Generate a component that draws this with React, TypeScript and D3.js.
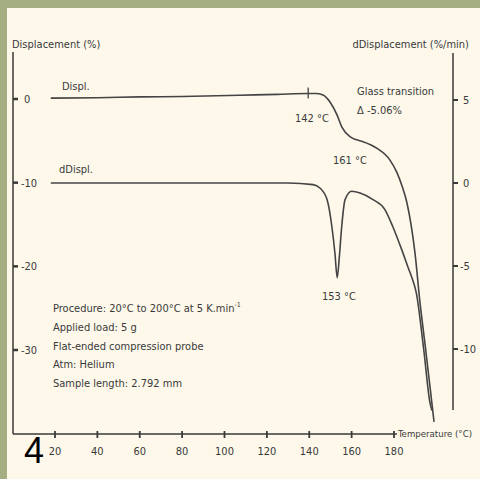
import { useEffect, useRef } from 'react';
import * as d3 from 'd3';

const tempTicks = [20, 40, 60, 80, 100, 120, 140, 160, 180];
const displTicks = [0, -10, -20, -30];
const rateTicks = [5, 0, -5, -10];

// Displacement (%) vs temperature (°C)
const displTemp = [18, 40, 60, 80, 107, 125, 139, 143, 146.5, 149.8, 153.1, 155.4, 159.2, 162, 165.4, 172, 178.1, 181.4, 183.8, 186.1, 189.9, 192.3, 194.6, 197, 198.9];
const displValue = [0.1, 0.15, 0.25, 0.3, 0.45, 0.55, 0.65, 0.65, 0.48, -0.36, -1.9, -3.35, -4.5, -4.85, -5.1, -5.9, -7.3, -8.8, -10.4, -12.4, -18.4, -24.4, -29.2, -34.4, -38.6];

// dDisplacement (%/min) vs temperature (°C)
const rateTemp = [18, 60, 100, 130, 141.8, 145, 148.4, 150.7, 152.1, 153.2, 154.2, 155.3, 156.9, 160, 164, 170.1, 175.7, 179.5, 183.6, 186.7, 188.7, 190.5, 194, 197, 197.9];
const rateValue = [0, 0, 0, 0, -0.1, -0.3, -1.0, -2.65, -4.2, -5.7, -4.45, -2.65, -1.0, -0.5, -0.6, -1.0, -1.6, -2.65, -4.0, -5.1, -5.8, -6.6, -10.0, -13.25, -13.7];

const procedureLines = [
  'Applied load: 5 g',
  'Flat-ended compression probe',
  'Atm: Helium',
  'Sample length: 2.792 mm',
];

const FONT = '"Liberation Sans Narrow", "DejaVu Sans Condensed", "Arial Narrow", sans-serif';
const INK = '#3a3a3a';

const App = () => {
  const svgRef = useRef<SVGSVGElement>(null);

  useEffect(() => {
    const svg = d3.select(svgRef.current);
    svg.selectAll('*').remove();

    const W = 480;
    const H = 479;

    // frame
    svg.append('rect').attr('width', W).attr('height', H).attr('fill', '#a5ad82');
    svg.append('rect').attr('x', 7).attr('y', 8).attr('width', W - 7).attr('height', H - 8).attr('fill', '#fdf8ea');

    const x = d3.scaleLinear().domain([20, 180]).range([55, 394]);
    const yL = d3.scaleLinear().domain([0, -30]).range([99, 350]);
    const yR = d3.scaleLinear().domain([5, -10]).range([100, 349]);

    const axisX = 13;
    const axisY = 434;
    const rightX = 453;

    const g = svg.append('g').style('font-family', FONT).style('fill', INK);

    // left axis
    g.append('line').attr('x1', axisX).attr('x2', axisX).attr('y1', 52).attr('y2', axisY)
      .attr('stroke', INK).attr('stroke-width', 1.5);
    displTicks.forEach(v => {
      g.append('line').attr('x1', axisX).attr('x2', axisX + 5).attr('y1', yL(v)).attr('y2', yL(v))
        .attr('stroke', INK).attr('stroke-width', 2.5);
      g.append('text').attr('x', v === 0 ? 24 : 21).attr('y', yL(v) + 4)
        .style('font-size', '11px').text(String(v));
    });

    // right axis
    g.append('line').attr('x1', rightX).attr('x2', rightX).attr('y1', 53).attr('y2', 410)
      .attr('stroke', INK).attr('stroke-width', 1.5);
    rateTicks.forEach(v => {
      g.append('line').attr('x1', rightX).attr('x2', rightX + 5).attr('y1', yR(v)).attr('y2', yR(v))
        .attr('stroke', INK).attr('stroke-width', 2);
      g.append('text').attr('x', v < 0 ? 460 : 463).attr('y', yR(v) + 4)
        .style('font-size', '11px').text(String(v));
    });

    // x axis
    g.append('line').attr('x1', axisX).attr('x2', 397).attr('y1', axisY).attr('y2', axisY)
      .attr('stroke', INK).attr('stroke-width', 1.5);
    tempTicks.forEach(t => {
      g.append('line').attr('x1', x(t)).attr('x2', x(t)).attr('y1', axisY - 3).attr('y2', axisY + 4)
        .attr('stroke', INK).attr('stroke-width', 1.8);
      g.append('text').attr('x', x(t)).attr('y', 455).attr('text-anchor', 'middle')
        .style('font-size', '11px').text(String(t));
    });

    // titles
    g.append('text').attr('x', 12).attr('y', 48).style('font-size', '11px').text('Displacement (%)');
    g.append('text').attr('x', 469).attr('y', 48).attr('text-anchor', 'end').style('font-size', '11px')
      .text('dDisplacement (%/min)');
    g.append('text').attr('x', 398).attr('y', 437).style('font-size', '9.5px')
      .attr('textLength', 74).attr('lengthAdjust', 'spacingAndGlyphs').text('Temperature (°C)');

    // curves
    const displData = displTemp.map((t, i) => [t, displValue[i]] as [number, number]);
    const rateData = rateTemp.map((t, i) => [t, rateValue[i]] as [number, number]);

    const displLine = d3.line<[number, number]>()
      .x(d => x(d[0])).y(d => yL(d[1])).curve(d3.curveMonotoneX);
    const rateLine = d3.line<[number, number]>()
      .x(d => x(d[0])).y(d => yR(d[1])).curve(d3.curveMonotoneX);

    svg.append('path').attr('d', displLine(displData)).attr('fill', 'none')
      .attr('stroke', '#444').attr('stroke-width', 1.6);
    svg.append('path').attr('d', rateLine(rateData)).attr('fill', 'none')
      .attr('stroke', '#444').attr('stroke-width', 1.6);

    // onset marker
    const onsetT = 139.5;
    const onsetY = yL(0.65);
    svg.append('line').attr('x1', x(onsetT)).attr('x2', x(onsetT)).attr('y1', onsetY - 6).attr('y2', onsetY + 5)
      .attr('stroke', '#444').attr('stroke-width', 1.3);

    // annotations
    const note = (tx: number, ty: number, s: string) =>
      g.append('text').attr('x', tx).attr('y', ty).style('font-size', '11px').text(s);
    note(62, 90, 'Displ.');
    note(59, 173, 'dDispl.');
    note(295, 122, '142 °C');
    note(333, 164, '161 °C');
    note(322, 300, '153 °C');
    note(357, 95, 'Glass transition');
    note(357, 114, 'Δ -5.06%');

    // procedure block
    const proc = g.append('text').attr('x', 53).attr('y', 312).style('font-size', '11px');
    proc.append('tspan').text('Procedure: 20°C to 200°C at 5 K.min');
    proc.append('tspan').attr('dy', -5).style('font-size', '7px').text('-1');
    procedureLines.forEach((s, i) => note(53, 331 + i * 18.5, s));

    // page number
    svg.append('text').attr('x', 24).attr('y', 463).style('font-family', '"Liberation Sans", Arial, sans-serif')
      .style('font-size', '36px').attr('fill', '#000').text('4');
  }, []);

  return (
    <svg ref={svgRef} width={480} height={479}
      style={{ position: 'fixed', left: 0, top: 0, display: 'block' }} />
  );
};

export default App;
